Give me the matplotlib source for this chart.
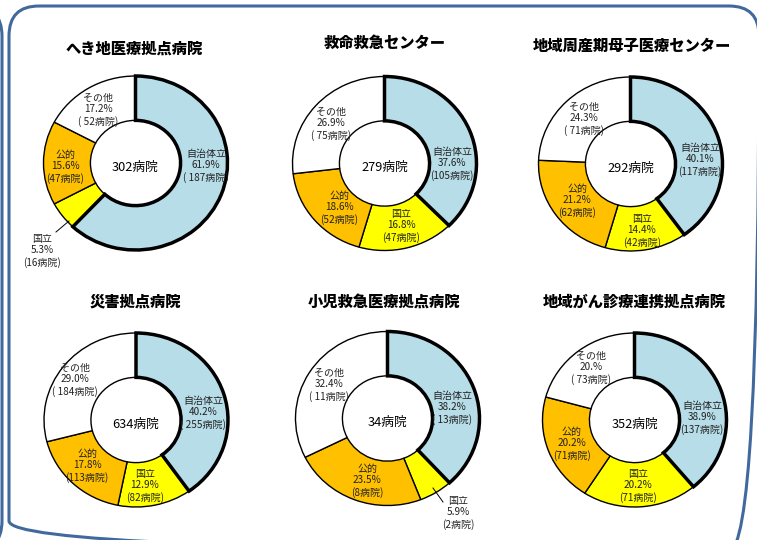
import matplotlib
matplotlib.use("Agg")
import matplotlib.pyplot as plt
from matplotlib.patches import FancyBboxPatch

plt.rcParams['font.family'] = ['Noto Sans CJK JP', 'DejaVu Sans']

# ---------------- data ----------------
titles = ["へき地医療拠点病院", "救命救急センター", "地域周産期母子医療センター",
          "災害拠点病院", "小児救急医療拠点病院", "地域がん診療連携拠点病院"]
categories = ["自治体立", "国立", "公的", "その他"]
totals = [302, 279, 292, 634, 34, 352]
counts_heki = [187, 16, 47, 52]
counts_kyumei = [105, 47, 52, 75]
counts_shusanki = [117, 42, 62, 71]
counts_saigai = [255, 82, 113, 184]
counts_shoni = [13, 2, 8, 11]
counts_gan = [137, 71, 71, 73]
counts = [counts_heki, counts_kyumei, counts_shusanki, counts_saigai, counts_shoni, counts_gan]
pct_labels = [["61.9%", "5.3%", "15.6%", "17.2%"],
              ["37.6%", "16.8%", "18.6%", "26.9%"],
              ["40.1%", "14.4%", "21.2%", "24.3%"],
              ["40.2%", "12.9%", "17.8%", "29.0%"],
              ["38.2%", "5.9%", "23.5%", "32.4%"],
              ["38.9%", "20.2%", "20.2%", "20.%"]]
count_labels = [["( 187病院)", "(16病院)", "(47病院)", "( 52病院)"],
                ["(105病院)", "(47病院)", "(52病院)", "( 75病院)"],
                ["(117病院)", "(42病院)", "(62病院)", "( 71病院)"],
                ["( 255病院)", "(82病院)", "(113病院)", "( 184病院)"],
                ["( 13病院)", "(2病院)", "(8病院)", "( 11病院)"],
                ["(137病院)", "(71病院)", "(71病院)", "( 73病院)"]]

# ---------------- layout / style ----------------
colors = ["#B7DDE8", "#FFFF00", "#FFC000", "#FFFFFF"]
W, H = 757, 540
RX, RY = 92.0, 87.0
centers = [(135.5, 163), (384.5, 163.5), (630.5, 164),
           (136, 420), (387.5, 418.5), (634.5, 420)]
title_pos = [(134, 49), (385, 43), (632, 46), (135, 302), (384, 302), (634, 302)]
# label centre offsets in pixels from pie centre (x right, y down)
label_off = [[(70.5, 3), (-93.5, 88), (-70.5, 4), (-37.5, -53)],
             [(67.5, 0.5), (16.5, 62.5), (-45.5, 44.5), (-53.5, -39.5)],
             [(69.5, -4), (11.5, 67), (-53.5, 37), (-46.5, -45)],
             [(67, -7), (9, 66), (-49, 46), (-61, -40)],
             [(64.5, -10.5), (70.5, 94.5), (-20.5, 62.5), (-58.5, -33.5)],
             [(67.5, -2), (3.5, 66), (-62.5, 24), (-43.5, -52)]]
leaders = {0: ((-79.5, 69), (-66.5, 58)), 4: ((55.5, 83.5), (45.5, 69.5))}
frame_color = "#41699D"

fig = plt.figure(figsize=(W / 100, H / 100), dpi=100)
fig.patch.set_facecolor("white")

# decorative frames in a pixel-coordinate background axes
bg = fig.add_axes([0, 0, 1, 1], zorder=-5)
bg.set_xlim(0, W)
bg.set_ylim(H, 0)
bg.axis("off")
bg.add_patch(FancyBboxPatch((9, 6), 750, 545,
                            boxstyle="round,pad=0,rounding_size=30",
                            fill=False, edgecolor=frame_color, linewidth=2.2))
bg.add_patch(FancyBboxPatch((-700, 6), 702, 545,
                            boxstyle="round,pad=0,rounding_size=30",
                            fill=False, edgecolor=frame_color, linewidth=2.2))

HW, HH = 125, 115
for i in range(6):
    cx, cy = centers[i]
    ax = fig.add_axes([(cx - HW) / W, 1 - (cy + HH) / H, 2 * HW / W, 2 * HH / H])
    wedges, _ = ax.pie(counts[i], colors=colors, startangle=90, counterclock=False,
                       radius=1.0,
                       wedgeprops=dict(width=0.51, edgecolor="black", linewidth=1.0))
    wedges[0].set_linewidth(2.5)
    wedges[0].set_zorder(5)
    ax.set_aspect("auto")
    ax.set_xlim(-HW / RX, HW / RX)
    ax.set_ylim(-HH / RY, HH / RY)
    ax.axis("off")

    ax.text(0, -4 / RY, f"{totals[i]}病院", ha="center", va="center",
            fontsize=9.2, color="black", zorder=10)
    for j, cat in enumerate(categories):
        dx, dy = label_off[i][j]
        txt = f"{cat}\n{pct_labels[i][j]}\n{count_labels[i][j]}"
        ax.text(dx / RX, -dy / RY, txt, ha="center", va="center", fontsize=7.2,
                color="#222222", linespacing=1.15, zorder=10)
    if i in leaders:
        (x0, y0), (x1, y1) = leaders[i]
        ax.plot([x0 / RX, x1 / RX], [-y0 / RY, -y1 / RY], color="black",
                linewidth=0.7, zorder=10)

    tx, ty = title_pos[i]
    fig.text(tx / W, 1 - ty / H, titles[i], ha="center", va="center",
             fontsize=11, fontweight="heavy", color="black")

fig.savefig("out.png", dpi=100)
